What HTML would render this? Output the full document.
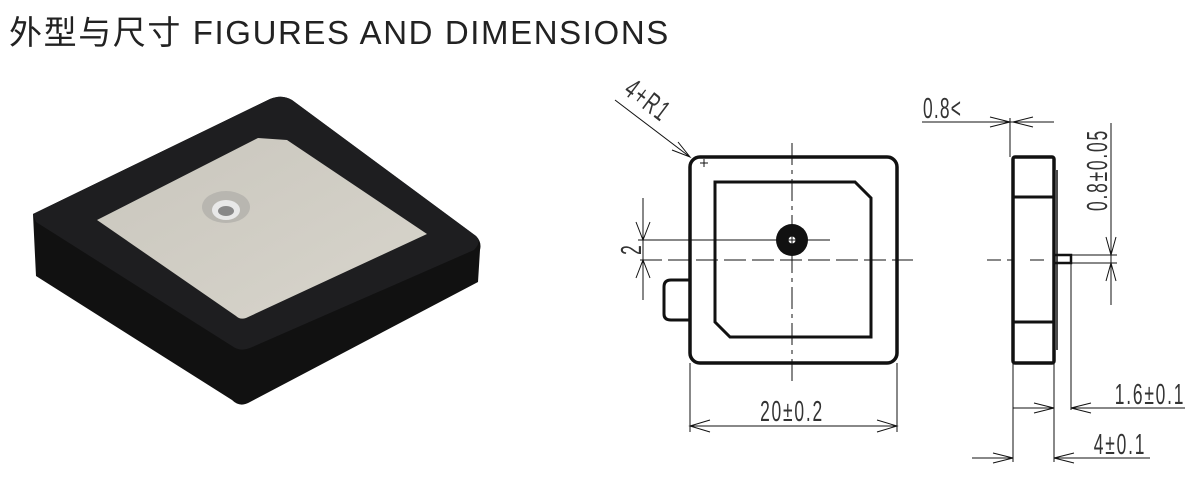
<!DOCTYPE html>
<html><head><meta charset="utf-8"><style>
body{margin:0;width:1199px;height:478px;background:#fff;overflow:hidden;position:relative;font-family:"Liberation Sans","Noto Sans CJK SC",sans-serif}
.t{position:absolute;left:9px;top:6px;font-size:33px;color:#222;white-space:nowrap;letter-spacing:1.6px}
svg{position:absolute;left:0;top:0}
</style></head><body>
<div class="t">外型与尺寸 FIGURES AND DIMENSIONS</div>
<svg width="1199" height="478" viewBox="0 0 1199 478">
<defs>
<linearGradient id="pad" x1="0" y1="0" x2="1" y2="1"><stop offset="0" stop-color="#c9c6bd"/><stop offset="1" stop-color="#d8d5cc"/></linearGradient>
</defs>
<path d="M33,214 L270,99 Q282,94 292,100 L476,236 Q482,242 480,250 L478,282 L250,402 Q240,408 232,400 L36,276 Z" fill="#111"/>
<path d="M33,214 L270,99 Q282,94 292,100 L476,236 Q482,242 474,250 L250,348 Q240,352 232,346 L36,222 Z" fill="#1e1e20"/>
<path d="M97,220 L258,138 L287,140 L427,234 L246,318 Q240,320 236,316 Z" fill="url(#pad)"/>
<ellipse cx="226" cy="207" rx="24" ry="16" fill="#b8b6b0"/>
<ellipse cx="226" cy="210" rx="14" ry="10" fill="#e8e8e8"/>
<ellipse cx="226" cy="211" rx="8" ry="5" fill="#888"/>
<g fill="none" stroke="#111" stroke-width="1">
<rect x="690" y="157" width="207" height="206" rx="10" stroke-width="3.5"/>
<path d="M715,182 L855,182 L871,198 L871,337 L730,337 L715,322 Z" stroke-width="3"/>
<path d="M689,280 L671,280 Q664,280 664,287 L664,314 Q664,320 671,320 L689,320" stroke-width="3"/>
<path d="M792,143 V383" stroke-dasharray="22,5,4,5"/>
<path d="M640,260 H912" stroke-dasharray="22,6"/>
<path d="M638,240 H830"/>
<path d="M643,198 V300"/>
<path d="M636,222 L643,240 L650,222 M636,278 L643,260 L650,278"/>
<path d="M615,100 L690,157 M672,150 L690,157 L678,142"/>
<path d="M690,363 V432 M897,363 V432 M690,426 H897 M710,420 L690,426 L710,432 M877,420 L897,426 L877,432"/>
<path d="M700,163 h8 M704,159 v8"/>
<rect x="1013" y="157" width="41" height="206" rx="2" stroke-width="3.5"/>
<path d="M1013,197 H1054 M1013,322 H1054" stroke-width="3"/>
<path d="M1057,170 V350" stroke-width="1.5"/>
<rect x="1054" y="255" width="17" height="8" stroke-width="2.5"/>
<path d="M900,260 H913 M987,260 H1013 M1030,260 H1046" stroke-dasharray="14,6"/>
<path d="M922,122 H1054 M1010,118 V157 M990,117 L1010,122 L990,127 M1033,117 L1013,122 L1033,127"/>
<path d="M1111,123 V305 M1071,255 H1117 M1071,263 H1117 M1106,237 L1111,255 L1116,237 M1106,281 L1111,263 L1116,281"/>
<path d="M1013,363 V462 M1054,363 V462 M1071,263 V410"/>
<path d="M1013,408 H1054 M1034,403 L1054,408 L1034,413 M1071,408 H1185 M1091,403 L1071,408 L1091,413"/>
<path d="M972,458 H1013 M993,453 L1013,458 L993,463 M1054,458 H1150 M1074,453 L1054,458 L1074,463"/>
</g>
<circle cx="792" cy="240" r="16" fill="#111"/>
<circle cx="792" cy="240" r="3.5" fill="#fff"/>
<path d="M787,240 H797 M792,235 V245" stroke="#111" stroke-width="1"/>
<g font-family="Liberation Sans Narrow, Liberation Sans, sans-serif" font-size="29" font-weight="300" fill="#333">
<text transform="translate(792,421) scale(0.6,1)" text-anchor="middle" letter-spacing="3">20±0.2</text>
<text transform="translate(923,118) scale(0.6,1)" letter-spacing="2">0.8&lt;</text>
<text transform="translate(1150,404) scale(0.6,1)" text-anchor="middle" letter-spacing="3">1.6±0.1</text>
<text transform="translate(1120,454) scale(0.6,1)" text-anchor="middle" letter-spacing="3">4±0.1</text>
<text transform="translate(1107,170) rotate(-90) scale(0.6,1)" text-anchor="middle" letter-spacing="3">0.8±0.05</text>
<text transform="translate(641,250) rotate(-90) scale(0.6,1)" text-anchor="middle">2</text>
<text transform="translate(642,108) rotate(37) scale(0.6,1)" text-anchor="middle" letter-spacing="3">4+R1</text>
</g>
</svg>
</body></html>
